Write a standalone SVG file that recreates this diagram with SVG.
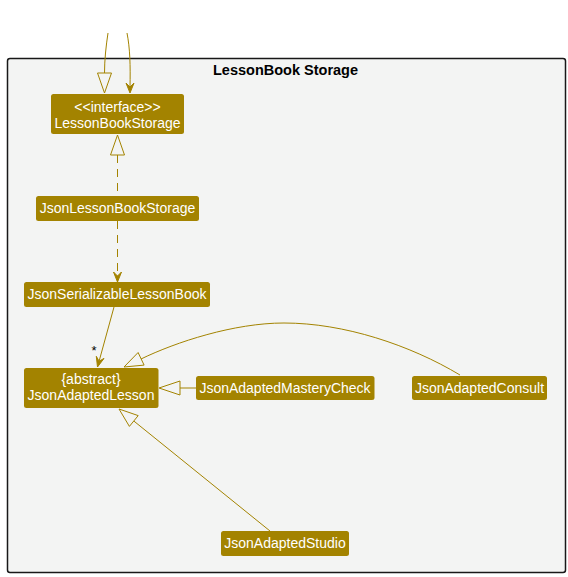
<svg xmlns="http://www.w3.org/2000/svg" width="568" height="577" viewBox="0 0 568 577">
<defs>
<style>
.node rect{fill:#A38300;stroke:none}
.node text{fill:#FFFFFF;font-family:"Liberation Sans",Arial,sans-serif;font-size:14px;text-anchor:middle}
.edge{fill:none;stroke:#A38300;stroke-width:1}
.dash{stroke-dasharray:8,6}
.hollow{fill:#F3F4F3;stroke:#A38300;stroke-width:1}
.head{fill:#A38300;stroke:#A38300;stroke-width:1}
.title{font-family:"Liberation Sans",Arial,sans-serif;font-size:14.5px;font-weight:bold;fill:#000;text-anchor:middle}
</style>
</defs>
<rect width="568" height="577" fill="#FFFFFF"/>
<g id="package">
<rect x="7.5" y="58.5" width="558" height="514" rx="2.5" fill="#F3F4F3" stroke="#181818" stroke-width="1.5"/>
<text class="title" x="285.5" y="75">LessonBook Storage</text>
</g>
<g id="connectors">
<path class="edge" d="M108,33 C106,46 104.5,60 104.5,73"/>
<polygon class="hollow" points="104.5,93 97.5,73 111.5,73"/>
<path class="edge" d="M127,33 C130,48 130.5,66 130,87"/>
<polygon class="head" points="130,93 126,83 130,87 134,83"/>
<line class="edge dash" x1="117.5" y1="155" x2="117.5" y2="196"/>
<polygon class="hollow" points="117.5,135 110.5,155 124.5,155"/>
<line class="edge dash" x1="117.5" y1="221" x2="117.5" y2="276"/>
<polygon class="head" points="117.5,282 113.5,272 117.5,276 121.5,272"/>
<line class="edge" x1="114" y1="307" x2="99.1" y2="361.2"/>
<polygon class="head" points="97.5,367 96.3,356.3 99.1,361.2 104,358.4"/>
<text x="94" y="355" style="font-family:'Liberation Sans',Arial,sans-serif;font-size:13px;fill:#000;text-anchor:middle">*</text>
<line class="edge" x1="196" y1="388" x2="180" y2="388"/>
<polygon class="hollow" points="159,388 180,381 180,395"/>
<path class="edge" d="M460,375 C410,345 344,323 284,323 C234,323 176,342 141,359"/>
<polygon class="hollow" points="124,367 144.1,365.1 138.1,352.5"/>
<line class="edge" x1="270" y1="531" x2="133.8" y2="421"/>
<polygon class="hollow" points="119,409 129.4,426.4 138.2,415.6"/>
</g>
<g id="LessonBookStorage" class="node">
<rect x="51" y="94" width="133" height="40" rx="2.5"/>
<text x="117.5" y="111.5">&lt;&lt;interface&gt;&gt;</text>
<text x="117.5" y="127.5">LessonBookStorage</text>
</g>
<g id="JsonLessonBookStorage" class="node">
<rect x="36" y="196" width="163" height="25" rx="2.5"/>
<text x="117.5" y="213">JsonLessonBookStorage</text>
</g>
<g id="JsonSerializableLessonBook" class="node">
<rect x="24" y="282" width="186" height="25" rx="2.5"/>
<text x="117" y="299">JsonSerializableLessonBook</text>
</g>
<g id="JsonAdaptedLesson" class="node">
<rect x="24" y="368" width="134.5" height="40" rx="2.5"/>
<text x="91" y="384">{abstract}</text>
<text x="91" y="400">JsonAdaptedLesson</text>
</g>
<g id="JsonAdaptedMasteryCheck" class="node">
<rect x="196" y="376" width="178.5" height="24" rx="2.5"/>
<text x="285" y="393">JsonAdaptedMasteryCheck</text>
</g>
<g id="JsonAdaptedConsult" class="node">
<rect x="412" y="376" width="135" height="24" rx="2.5"/>
<text x="479.5" y="393">JsonAdaptedConsult</text>
</g>
<g id="JsonAdaptedStudio" class="node">
<rect x="221" y="531" width="128" height="25" rx="2.5"/>
<text x="285" y="548">JsonAdaptedStudio</text>
</g>
</svg>
